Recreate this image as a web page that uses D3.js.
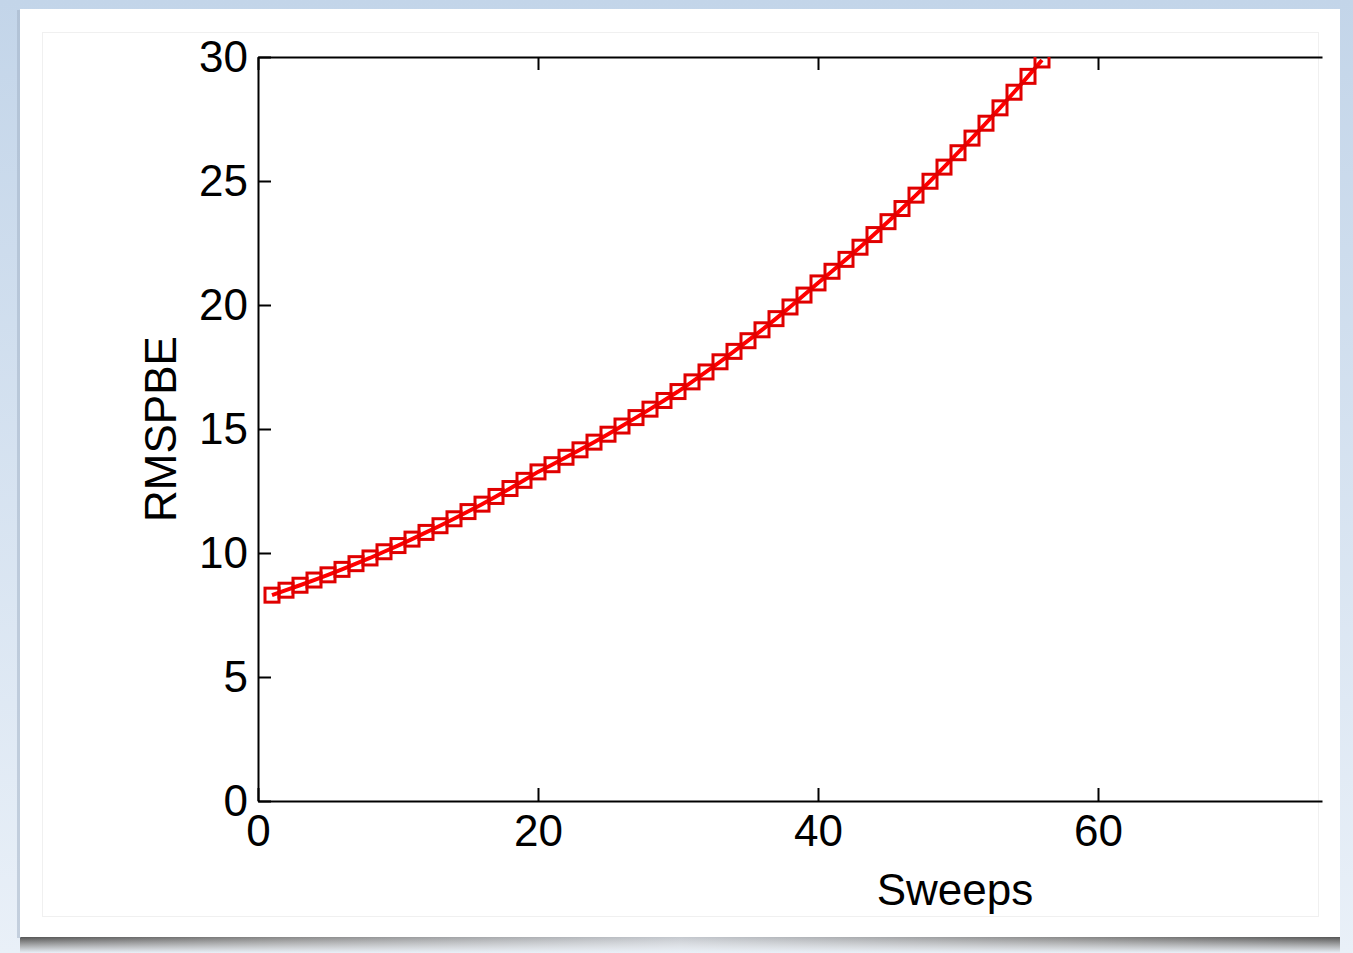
<!DOCTYPE html>
<html>
<head>
<meta charset="utf-8">
<script src="https://cdn.jsdelivr.net/npm/d3@7"></script>
<style>
  html, body { margin: 0; padding: 0; }
  body { width: 1353px; height: 953px; overflow: hidden; }
  svg { display: block; font-family: "Liberation Sans", Arial, Helvetica, sans-serif; }
</style>
</head>
<body>
<svg id="chart" width="1353" height="953"></svg>
<script>
// Sweep number vs RMSPBE
const sweeps = d3.range(1, 57);
const rmspbe = [
  8.30, 8.50, 8.70, 8.91, 9.12, 9.34, 9.57, 9.80, 10.05, 10.30,
  10.56, 10.83, 11.10, 11.38, 11.67, 11.97, 12.28, 12.60, 12.93, 13.27,
  13.56, 13.86, 14.16, 14.47, 14.79, 15.12, 15.46, 15.80, 16.15, 16.51,
  16.90, 17.30, 17.71, 18.13, 18.56, 19.00, 19.45, 19.92, 20.40, 20.89,
  21.36, 21.84, 22.33, 22.84, 23.36, 23.89, 24.43, 24.99, 25.56, 26.14,
  26.73, 27.33, 27.95, 28.58, 29.22, 29.88
];
const xTicks = [0, 20, 40, 60];
const yTicks = [0, 5, 10, 15, 20, 25, 30];
const xLabel = "Sweeps";
const yLabel = "RMSPBE";

const svg = d3.select("#chart");
const W = 1353, H = 953;

// --- frame: blue page, white card with shadow, faint inner border ---
const defs = svg.append("defs");
const bg = defs.append("linearGradient").attr("id", "bg")
  .attr("x1", 0).attr("y1", 0).attr("x2", 0).attr("y2", 1);
bg.append("stop").attr("offset", "0%").attr("stop-color", "#c3d5e9");
bg.append("stop").attr("offset", "100%").attr("stop-color", "#e9f0f8");

const shadow = defs.append("linearGradient").attr("id", "shadow")
  .attr("x1", 0).attr("y1", 0).attr("x2", 1).attr("y2", 0);
shadow.append("stop").attr("offset", "0%").attr("stop-color", "#555");
shadow.append("stop").attr("offset", "20%").attr("stop-color", "#888");
shadow.append("stop").attr("offset", "50%").attr("stop-color", "#c4c8ce");
shadow.append("stop").attr("offset", "80%").attr("stop-color", "#888");
shadow.append("stop").attr("offset", "100%").attr("stop-color", "#555");

const shadowV = defs.append("linearGradient").attr("id", "shadowV")
  .attr("x1", 0).attr("y1", 0).attr("x2", 0).attr("y2", 1);
shadowV.append("stop").attr("offset", "0%").attr("stop-color", "#fff").attr("stop-opacity", 0);
shadowV.append("stop").attr("offset", "100%").attr("stop-color", "#e9f0f8").attr("stop-opacity", 1);

svg.append("rect").attr("width", W).attr("height", H).attr("fill", "url(#bg)");
svg.append("rect").attr("x", 20).attr("y", 937).attr("width", 1320).attr("height", 16)
  .attr("fill", "url(#shadow)");
svg.append("rect").attr("x", 20).attr("y", 937).attr("width", 1320).attr("height", 16)
  .attr("fill", "url(#shadowV)");
svg.append("rect").attr("x", 17).attr("y", 10).attr("width", 4).attr("height", 928)
  .attr("fill", "#9fb0c4").attr("opacity", 0.5);
svg.append("rect").attr("x", 20).attr("y", 9).attr("width", 1320).attr("height", 928)
  .attr("fill", "#fff");
svg.append("rect").attr("x", 42.5).attr("y", 32.5).attr("width", 1276).attr("height", 884)
  .attr("fill", "none").attr("stroke", "#f0f0f0").attr("stroke-width", 1);

// --- plot area ---
const plotLeft = 258, plotTop = 57, plotBottom = 801, plotRight = 1322;

const x = d3.scaleLinear().domain([0, 76]).range([plotLeft, plotRight]);
const y = d3.scaleLinear().domain([0, 30]).range([plotBottom, plotTop]);

defs.append("clipPath").attr("id", "plotClip")
  .append("rect").attr("x", plotLeft).attr("y", plotTop)
  .attr("width", plotRight - plotLeft).attr("height", plotBottom - plotTop);

const fontSize = 44;

function styleAxis(g) {
  g.selectAll("path.domain").attr("stroke", "#000").attr("stroke-width", 2);
  g.selectAll(".tick line").attr("stroke", "#000").attr("stroke-width", 2);
  g.selectAll(".tick text").attr("fill", "#000").style("font-size", fontSize + "px");
  g.attr("font-family", null).attr("font-size", null);
}

// bottom axis with labels
svg.append("g")
  .attr("transform", `translate(0,${plotBottom})`)
  .call(d3.axisBottom(x).tickValues(xTicks).tickSize(-13).tickSizeOuter(0).tickPadding(14))
  .call(styleAxis);

// top axis, ticks only
svg.append("g")
  .attr("transform", `translate(0,${plotTop})`)
  .call(d3.axisTop(x).tickValues(xTicks).tickSize(-13).tickSizeOuter(0).tickFormat(""))
  .call(styleAxis);

// left axis
svg.append("g")
  .attr("transform", `translate(${plotLeft},0)`)
  .call(d3.axisLeft(y).tickValues(yTicks).tickSize(-13).tickSizeOuter(0).tickPadding(10))
  .call(styleAxis);

// axis titles
svg.append("text")
  .attr("x", 955).attr("y", 905)
  .attr("text-anchor", "middle")
  .style("font-size", fontSize + "px")
  .text(xLabel);

svg.append("text")
  .attr("transform", `translate(176,${(plotTop + plotBottom) / 2}) rotate(-90)`)
  .attr("text-anchor", "middle")
  .style("font-size", fontSize + "px")
  .text(yLabel);

// --- the series ---
const data = sweeps.map((s, i) => ({ s: s, v: rmspbe[i] }));
const plot = svg.append("g").attr("clip-path", "url(#plotClip)");

plot.append("path")
  .datum(data)
  .attr("fill", "none")
  .attr("stroke", "#ff0000")
  .attr("stroke-width", 4)
  .attr("d", d3.line().x(d => x(d.s)).y(d => y(d.v)));

const m = 14; // marker side
plot.selectAll("rect.mk")
  .data(data)
  .join("rect")
    .attr("class", "mk")
    .attr("x", d => x(d.s) - m / 2)
    .attr("y", d => y(d.v) - m / 2)
    .attr("width", m)
    .attr("height", m)
    .attr("fill", "none")
    .attr("stroke", "#e00000")
    .attr("stroke-width", 3);
</script>
</body>
</html>
